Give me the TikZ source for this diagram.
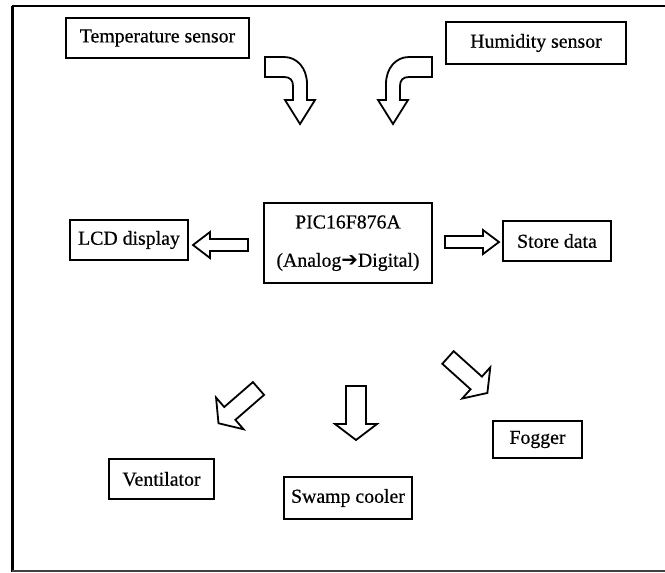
\documentclass[tikz,border=0pt]{standalone}
\usepackage{fontspec}
\setmainfont{Liberation Serif}[FakeBold=0.5]
\newfontfamily\arrowfont{DejaVu Sans}
\newcommand{\blkarrow}[6]{%
  \draw[arrowline, shift={#1}, rotate=#2] (0,-#4) -- (#3,-#4) -- (#3,-#5) -- ({#3+#6},0) -- (#3,#5) -- (#3,#4) -- (0,#4) -- cycle;}
\begin{document}
\begin{tikzpicture}[x=1pt,y=-1pt,
  box/.style={draw, line width=2.3pt, inner sep=0pt, font=\fontsize{19.8}{23}\selectfont},
  lbl/.style={inner sep=0pt, font=\fontsize{19.8}{23}\selectfont},
  arrowline/.style={draw, fill=white, line width=1.8pt, line join=miter}]
\useasboundingbox (0,0) rectangle (665,573);
% frame
\draw[line width=3pt] (12,6) -- (12,572);
\draw[line width=2.2pt] (12,6) -- (665,6);
\draw[line width=2pt, black!75] (12,571) -- (665,571);
% boxes
\node[box, minimum width=183pt, minimum height=40pt] (temp) at (157.5,38) {Temperature sensor};
\node[box, minimum width=180pt, minimum height=42pt] (hum) at (536,43) {Humidity sensor};
\node[box, minimum width=168pt, minimum height=80pt] (pic) at (348,243) {};
\node[lbl] (pic1) at (348,222) {PIC16F876A};
\node[lbl] (pic2) at (348,262) {(Analog{\arrowfont ➔}Digital)};
\node[box, minimum width=118pt, minimum height=40pt] (lcd) at (129,240) {LCD display};
\node[box, minimum width=108pt, minimum height=40pt] (store) at (557,241) {Store data};
\node[box, minimum width=105pt, minimum height=40pt] (vent) at (161.5,479) {Ventilator};
\node[box, minimum width=128pt, minimum height=42pt] (swamp) at (348,498) {Swamp cooler};
\node[box, minimum width=89pt, minimum height=37pt] (fog) at (537.5,439.5) {Fogger};
% curved arrows
\draw[arrowline] (265,57) -- (284,57) .. controls (297,57) and (307,68) .. (307,84) -- (307,100) -- (315,100) -- (300,124) -- (285,100) -- (293,100) -- (293,86) .. controls (293,80) and (290,77) .. (284,77) -- (265,77) -- cycle;
\draw[arrowline] (432,57) -- (409,57) .. controls (396,57) and (386,68) .. (386,84) -- (386,100) -- (378,100) -- (393,124) -- (408,100) -- (400,100) -- (400,86) .. controls (400,80) and (403,77) .. (409,77) -- (432,77) -- cycle;
% straight block arrows
\blkarrow{(248,245)}{180}{38}{6}{13}{17}
\blkarrow{(445,242)}{0}{38}{6}{12}{16}
\blkarrow{(356,386)}{-90}{38}{10}{21}{16}
\blkarrow{(258.5,388.5)}{221}{38}{8.5}{21}{15}
\blkarrow{(448,357.5)}{-42}{38}{8.5}{21}{15}
\end{tikzpicture}
\end{document}
